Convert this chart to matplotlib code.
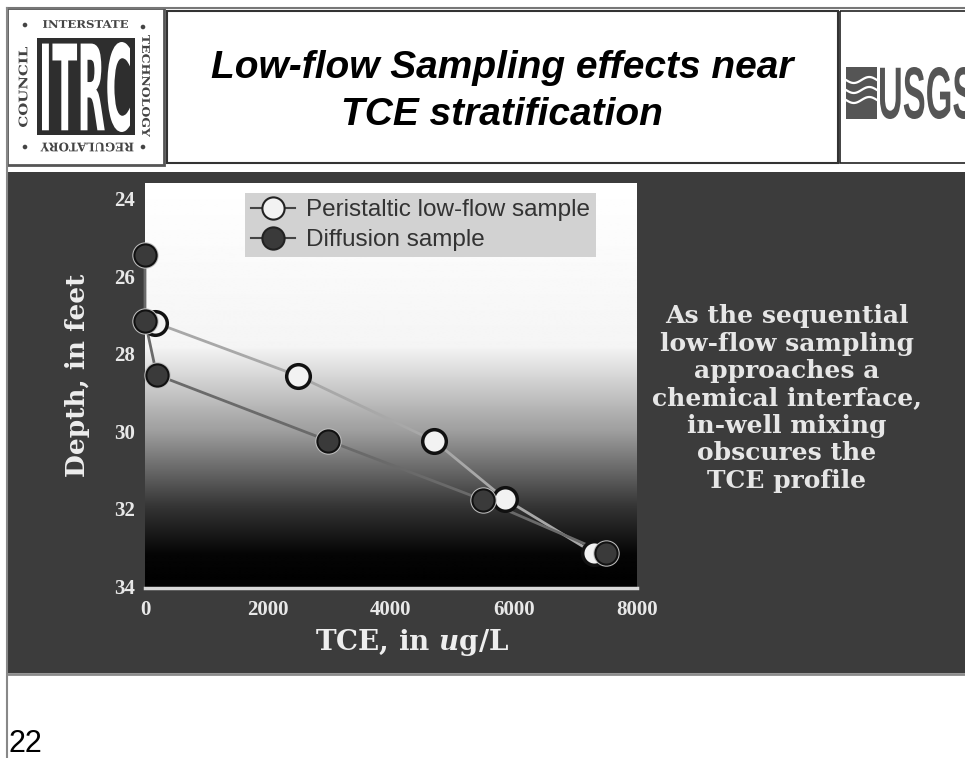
import matplotlib
matplotlib.use("Agg")
import matplotlib.pyplot as plt
import numpy as np
from matplotlib.patches import Rectangle, PathPatch, Circle
from matplotlib.textpath import TextPath
from matplotlib.font_manager import FontProperties
from matplotlib.transforms import Affine2D
from matplotlib.lines import Line2D

W, H = 965, 758

# Data
peri_tce = [155, 2480, 4700, 5850, 7300]
peri_depth = [27.2, 28.57, 30.25, 31.75, 33.15]
diff_tce = [0, 0, 190, 2980, 5500, 7500]
diff_depth = [25.45, 27.15, 28.55, 30.25, 31.78, 33.15]
x_ticks = [0, 2000, 4000, 6000, 8000]
y_ticks = [24, 26, 28, 30, 32, 34]
series_labels = ["Peristaltic low-flow sample", "Diffusion sample"]
title_lines = ["Low-flow Sampling effects near", "TCE stratification"]
note_lines = ["As the sequential", "low-flow sampling", "approaches a",
              "chemical interface,", "in-well mixing", "obscures the",
              "TCE profile"]

plt.rcParams["mathtext.fontset"] = "custom"
plt.rcParams["mathtext.it"] = "DejaVu Serif:bold:italic"
plt.rcParams["mathtext.rm"] = "DejaVu Serif:bold"

fig = plt.figure(figsize=(W / 100, H / 100), dpi=100)
fig.patch.set_facecolor("white")

# Background axes in pixel coordinates (y down)
bg = fig.add_axes([0, 0, 1, 1])
bg.set_xlim(0, W)
bg.set_ylim(H, 0)
bg.axis("off")


def rect(x0, y0, x1, y1, **kw):
    bg.add_patch(Rectangle((x0, y0), x1 - x0, y1 - y0, **kw))


def fit_text(s, cx, cy, w, h, angle=0, color="black", family="DejaVu Sans", weight="bold"):
    # squeeze a text path into a w x h box centred at (cx, cy)
    tp = TextPath((0, 0), s, size=10, prop=FontProperties(family=family, weight=weight))
    bb = tp.get_extents()
    tr = (Affine2D().translate(-(bb.x0 + bb.width / 2), -(bb.y0 + bb.height / 2))
          .scale(w / bb.width, -h / bb.height).rotate_deg(angle).translate(cx, cy))
    bg.add_patch(PathPatch(tp, transform=tr + bg.transData, fc=color, ec="none"))


# Header frame lines
bg.plot([7, W], [8, 8], color="#777777", lw=1.5)
bg.plot([7, 7], [8, H], color="#888888", lw=1.5)

# ITRC logo
rect(7, 8, 164, 165, fc="white", ec="#555555", lw=2)
rect(37, 38, 135, 135, fc="#2e2e2e", ec="none")
fit_text("ITRC", 86, 87, 88, 90, color="white")
fit_text("INTERSTATE", 85.5, 24, 85, 8, color="#444444", family="DejaVu Serif")
fit_text("COUNCIL", 23, 87, 80, 9, angle=-90, color="#444444", family="DejaVu Serif")
fit_text("TECHNOLOGY", 146, 86, 102, 8, angle=90, color="#444444", family="DejaVu Serif")
fit_text("REGULATORY", 87, 147, 93, 9, angle=180, color="#444444", family="DejaVu Serif")
for dx, dy in [(25, 25), (143, 27), (25, 147), (143, 147)]:
    bg.add_patch(Circle((dx, dy), 1.6, color="#444444"))

# Title box
rect(167, 11, 838, 163, fc="none", ec="#333333", lw=1.5)
bg.text(502, 78, title_lines[0], fontsize=28, weight="bold", style="italic",
        family="Liberation Sans", ha="center", va="baseline")
bg.text(502, 125, title_lines[1], fontsize=28, weight="bold", style="italic",
        family="Liberation Sans", ha="center", va="baseline")

# USGS logo
rect(840, 11, 975, 163, fc="none", ec="#222222", lw=1.2)
rect(846, 67, 877, 119, fc="#555555", ec="none")
wx = np.linspace(846, 877, 40)
for k in range(3):
    bg.plot(wx, 80 + k * 10 + 3 * np.sin((wx - 846) / 31 * 2 * np.pi), color="white", lw=1.6)
fit_text("USGS", 927, 93, 94, 52, color="#555555", family="Liberation Sans")

# Dark slide panel
rect(7, 172, W, 673, fc="#3c3c3c", ec="none")
bg.plot([7, W], [673.5, 673.5], color="#8a8a8a", lw=2)

# Note on the right
for i, line in enumerate(note_lines):
    bg.text(787, 323 + i * 27.5, line, family="DejaVu Serif", weight="bold",
            fontsize=18, color="#e6e6e6", ha="center", va="baseline")

# Page number
bg.text(8, 752, "22", fontsize=22, family="Liberation Sans", va="baseline", color="black")

# Main chart
ax = fig.add_axes([145 / W, 1 - 588 / H, 492 / W, 405 / H])
ax.set_facecolor("white")
d = np.linspace(23.6, 34.05, 400)
shade = np.interp(d, [23.6, 27.8, 30.0, 32.0, 33.2, 34.05], [1.0, 0.96, 0.62, 0.2, 0.02, 0.0])
ax.imshow(shade[:, None], extent=[0, 8000, 34.05, 23.6], aspect="auto", cmap="gray",
          vmin=0, vmax=1, interpolation="bilinear", zorder=0)

ax.plot(peri_tce, peri_depth, color="#a8a8a8", lw=2, zorder=2, clip_on=False)
ax.plot(diff_tce, diff_depth, color="#6a6a6a", lw=2, zorder=2, clip_on=False)
ax.plot(peri_tce, peri_depth, ls="none", marker="o", ms=17, mfc="#f2f2f2",
        mec="#111111", mew=2.5, zorder=3, clip_on=False)
ax.plot(diff_tce, diff_depth, ls="none", marker="o", ms=19, mfc="#c0c0c0",
        mec="none", zorder=4, clip_on=False)
ax.plot(diff_tce, diff_depth, ls="none", marker="o", ms=16, mfc="#3a3a3a",
        mec="#111111", mew=1.5, zorder=5, clip_on=False)

ax.set_xlim(0, 8000)
ax.set_ylim(34.05, 23.6)
ax.set_xticks(x_ticks)
ax.set_yticks(y_ticks)
for s in ["top", "right", "left"]:
    ax.spines[s].set_visible(False)
ax.spines["bottom"].set_color("#d8d8d8")
ax.spines["bottom"].set_linewidth(2.5)
ax.tick_params(axis="x", length=0, pad=8.5, labelcolor="#e8e8e8")
ax.tick_params(axis="y", length=0, pad=7, labelcolor="#e8e8e8")
for lab in ax.get_xticklabels() + ax.get_yticklabels():
    lab.set_fontfamily("Liberation Serif")
    lab.set_fontweight("bold")
    lab.set_fontsize(15)

ax.set_ylabel("Depth, in feet", family="DejaVu Serif", weight="bold", fontsize=19,
              color="#eeeeee", va="center")
ax.yaxis.set_label_coords((77 - 145) / 492, 1 - (375 - 183) / 405)
ax.set_xlabel("TCE, in $u$g/L", family="DejaVu Serif", weight="bold", fontsize=20,
              color="#eeeeee", va="center")
ax.xaxis.set_label_coords((412 - 145) / 492, -(643 - 588) / 405)

h1 = Line2D([], [], color="#444444", lw=1.5, marker="o", ms=16, mfc="#f2f2f2",
            mec="#222222", mew=1.5)
h2 = Line2D([], [], color="#444444", lw=1.5, marker="o", ms=16, mfc="#3a3a3a",
            mec="#222222", mew=1.5)
leg = ax.legend([h1, h2], series_labels, loc="upper left",
                bbox_to_anchor=(245 / W, 1 - 193 / H), bbox_transform=fig.transFigure,
                borderaxespad=0, frameon=True, fancybox=False, facecolor="#d2d2d2",
                edgecolor="none", framealpha=1,
                prop=FontProperties(family="Liberation Sans", size=17.5),
                handlelength=1.8, handletextpad=0.45, borderpad=0.25, labelspacing=0.33)
for t in leg.get_texts():
    t.set_color("#333333")

fig.savefig("out.png", dpi=100)
